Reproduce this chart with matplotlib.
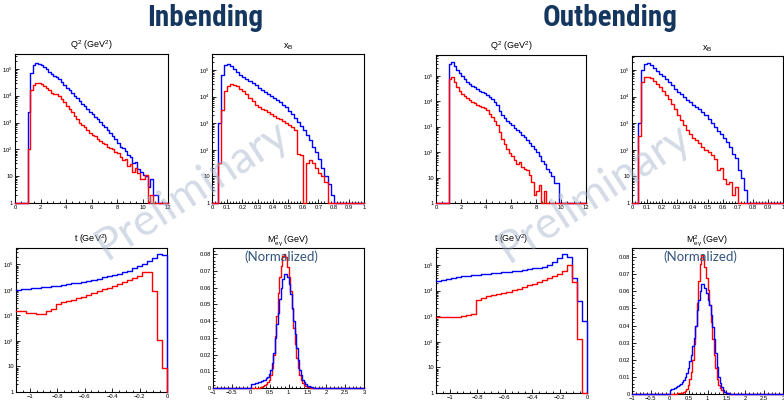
import matplotlib
matplotlib.use("Agg")
import matplotlib.pyplot as plt
from matplotlib import font_manager
from matplotlib.ticker import (FixedLocator, FixedFormatter, FuncFormatter,
                               LogLocator, MultipleLocator, NullFormatter)
import numpy as np

plt.rcParams["font.family"] = ["Liberation Sans", "DejaVu Sans"]
plt.rcParams["mathtext.fontset"] = "custom"
plt.rcParams["mathtext.rm"] = "Liberation Sans"
plt.rcParams["mathtext.it"] = "Liberation Sans:italic"
plt.rcParams["mathtext.default"] = "regular"

W, H = 784, 401
BLUE, RED = "#0000ff", "#ff0000"
NAVY = "#14365f"

# ---- histogram contents ----
# Q^2: bins of 0.2 GeV^2, first listed bin starts at 1.0
Q2_IN_BLUE = [2500, 70000, 141000, 170000, 158000, 138000, 115000, 95500, 79400, 63100,
              52500, 47900, 41700, 31600, 25100, 20000, 15800, 12600, 10000, 7940,
              6310, 5010, 3980, 3160, 2510, 2000, 1580, 1320, 1050, 832,
              661, 525, 417, 316, 251, 178, 126, 112, 89, 63,
              52, 32, 35, 18, 14, 11, 10, 4, 8, 2, 2]
Q2_IN_RED = [100, 15800, 25000, 30000, 29500, 26300, 22400, 19000, 15800, 13200,
             11700, 12000, 10000, 7600, 5600, 4200, 3200, 2400, 1780, 1320,
             1000, 790, 660, 525, 420, 355, 316, 240, 200, 166,
             158, 126, 112, 100, 83, 71, 50, 40, 42, 25,
             28, 14, 20, 13, 8, 8, 11, 0, 2]
Q2_OUT_BLUE = [302000, 355000, 240000, 166000, 126000, 100000, 76000, 56000, 46000, 40000,
               35000, 30000, 26300, 23400, 20400, 17800, 14800, 12000, 9300, 7100,
               4200, 2800, 2150, 1660, 1380, 1150, 910, 720, 600, 460,
               380, 300, 220, 178, 132, 100, 71, 45, 35, 21,
               16, 12, 6, 6]
Q2_OUT_RED = [76000, 89000, 56000, 35500, 25100, 20000, 15800, 13200, 11200, 9500,
              8300, 7200, 6600, 6000, 5200, 4400, 3300, 2400, 1660, 1120,
              600, 316, 200, 132, 95, 69, 50, 35, 40, 26,
              22, 20, 13, 7, 2, 3, 5, 0, 3]

# x_B: bins of 0.02, first listed bin starts at 0.04
XB_IN_BLUE = [1000, 63000, 151000, 166000, 138000, 107000, 83000, 66000, 54000, 46000,
              38000, 31600, 26300, 21400, 18200, 15100, 12600, 10700, 9100, 7600,
              6300, 5000, 4000, 3000, 2240, 1580, 1120, 800, 540, 355,
              224, 126, 80, 45, 20, 10, 5, 2]
XB_IN_RED = [32, 3200, 15800, 24000, 29500, 28200, 24000, 20000, 16600, 12600,
             8900, 6600, 5000, 4200, 3550, 3200, 2630, 2140, 1860, 1580,
             1410, 1200, 1000, 830, 710, 560, 70, 63, 0, 32,
             42, 32, 20, 14, 10, 6]
XB_OUT_BLUE = [1000, 100000, 174000, 186000, 158000, 120000, 93000, 72000, 57500, 46000,
               35500, 27000, 20000, 15100, 12000, 9500, 7600, 6000, 4800, 4000,
               3300, 2600, 2000, 1450, 1000, 710, 525, 400, 280, 190,
               126, 71, 50, 18, 9, 3]
XB_OUT_RED = [316, 35500, 52500, 56000, 50000, 40000, 30000, 22000, 15800, 11200,
              8000, 5200, 3300, 2100, 1320, 830, 560, 400, 280, 224,
              178, 126, 100, 80, 66, 45, 18, 20, 8, 5,
              6, 2, 4]

# t: 30 bins between -1.1 and 0 GeV^2
T_IN_BLUE = [10000, 10500, 11000, 11500, 12000, 12600, 13200, 13800, 14800, 15800,
             17000, 18200, 19500, 20900, 22900, 25100, 27500, 30900, 34700, 39800,
             43600, 50100, 57500, 69200, 85100, 107000, 138000, 178000, 251000, 229000]
T_IN_RED = [1510, 1510, 1200, 1200, 1120, 1120, 1510, 1860, 2880, 3310,
            3720, 4170, 4790, 5500, 6460, 7590, 8910, 10500, 12300, 14800,
            17400, 20400, 24000, 28200, 35500, 50100, 51300, 9330, 107, 9]
T_OUT_BLUE = [22900, 26300, 29500, 31600, 33100, 35500, 37200, 38900, 40700, 42700,
              44700, 46800, 49000, 51300, 53700, 56200, 60300, 64600, 69200, 74100,
              79400, 87100, 100000, 132000, 190000, 257000, 209000, 31600, 3890, 661]
T_OUT_RED = [933, 933, 912, 891, 933, 1000, 1120, 1260, 4170, 5250,
             6030, 6760, 7590, 8320, 9120, 10500, 12000, 13800, 15800, 18600,
             21900, 25700, 30200, 36300, 44700, 60300, 95500, 21400, 132, 0]

# M^2_egamma (normalized): bins of 0.04 GeV, first listed bin starts at 0
M2_IN_BLUE = [0.0022, 0.0024, 0.0026, 0.0028, 0.0030, 0.0033, 0.0036, 0.0040, 0.0045, 0.0050,
              0.0058, 0.0068, 0.0082, 0.011, 0.015, 0.021, 0.030, 0.038, 0.045, 0.053,
              0.060, 0.065, 0.068, 0.068, 0.066, 0.062, 0.056, 0.048, 0.040, 0.032,
              0.024, 0.017, 0.011, 0.0075, 0.0050, 0.0033, 0.0022, 0.0014, 0.0009, 0.0006,
              0.0004, 0.0002, 0.0001, 0.0001]
M2_IN_RED = [0, 0, 0, 0, 0.0001, 0.0002, 0.0003, 0.0006, 0.0010, 0.0016,
             0.0024, 0.0035, 0.0050, 0.0075, 0.012, 0.020, 0.031, 0.043, 0.057, 0.066,
             0.073, 0.079, 0.080, 0.078, 0.072, 0.066, 0.058, 0.047, 0.036, 0.026,
             0.018, 0.012, 0.0075, 0.0045, 0.0028, 0.0017, 0.0011, 0.0007, 0.0004, 0.0002,
             0.0001]
M2_OUT_BLUE = [0.0025, 0.0028, 0.0031, 0.0035, 0.0039, 0.0044, 0.0050, 0.0058, 0.0068, 0.0082,
               0.0098, 0.0120, 0.0150, 0.019, 0.023, 0.028, 0.033, 0.040, 0.049, 0.055,
               0.060, 0.064, 0.064, 0.062, 0.059, 0.055, 0.052, 0.046, 0.039, 0.032,
               0.024, 0.016, 0.010, 0.0065, 0.0040, 0.0024, 0.0014, 0.0008, 0.0004, 0.0002,
               0.0001]
M2_OUT_RED = [0, 0, 0, 0.0001, 0.0002, 0.0003, 0.0004, 0.0006, 0.0008, 0.0013,
              0.0020, 0.0032, 0.0050, 0.0085, 0.013, 0.020, 0.029, 0.040, 0.053, 0.066,
              0.076, 0.081, 0.079, 0.074, 0.068, 0.061, 0.052, 0.042, 0.032, 0.023,
              0.015, 0.009, 0.0055, 0.0035, 0.0022, 0.0014, 0.0009, 0.0005, 0.0003, 0.0001]

LOG_TICKS = [1, 10, 1e2, 1e3, 1e4, 1e5]
LOG_LABELS = ["1", "10", "$10^2$", "$10^3$", "$10^4$", "$10^5$"]

# variable settings: title, x range, bin width, first bin, major/minor x ticks
VARS = {
    "q2": ("Q$^2$ (GeV$^2$)", (0, 12), 0.2, 1.0, 2, 0.5),
    "xb": ("x$_B$", (0, 1), 0.02, 0.04, 0.1, 0.02),
    "t": ("t (GeV$^2$)", (-1.1, 0), 1.1 / 30, -1.1, 0.2, 0.05),
    "m2": ("M$^2_{e\\gamma}$ (GeV)", (-1, 3), 0.04, 0.0, 0.5, 0.1),
}

# panels: variable, blue, red, pixel box (left, right, top, bottom), y top
PANELS = [
    ("q2", Q2_IN_BLUE, Q2_IN_RED, (15, 168, 54, 203), 3.6e5),
    ("xb", XB_IN_BLUE, XB_IN_RED, (212, 364, 54, 203), 4.0e5),
    ("t", T_IN_BLUE, T_IN_RED, (16, 167, 248, 392), 4.4e5),
    ("m2", M2_IN_BLUE, M2_IN_RED, (213, 364, 248, 388), 0.0836),
    ("q2", Q2_OUT_BLUE, Q2_OUT_RED, (436, 586, 55, 203), 6.6e5),
    ("xb", XB_OUT_BLUE, XB_OUT_RED, (632, 783, 56, 203), 3.35e5),
    ("t", T_OUT_BLUE, T_OUT_RED, (436, 587, 248, 393), 4.6e5),
    ("m2", M2_OUT_BLUE, M2_OUT_RED, (632, 783, 248, 394), 0.0853),
]


def fmt_num(v, _):
    if abs(v) < 1e-9:
        return "0"
    return f"{v:g}".replace("-", "\u2212")


def draw_hist(ax, vals, x0, width, xlim, floor, color):
    # ROOT-like outline: empty bins lie on the floor, the last bin drops to it
    vals = np.maximum(np.asarray(vals, float), floor)
    edges = x0 + width * np.arange(len(vals) + 1)
    if x0 > xlim[0] + 1e-9:
        edges = np.concatenate(([xlim[0]], edges))
        vals = np.concatenate(([floor], vals))
    if edges[-1] < xlim[1] - 1e-9:
        edges = np.concatenate((edges, [xlim[1]]))
        vals = np.concatenate((vals, [floor]))
    xs = np.append(np.repeat(edges, 2)[1:-1], edges[-1])
    ys = np.append(np.repeat(vals, 2), floor)
    ax.plot(xs, ys, color=color, lw=1.0, zorder=3, clip_on=False)


fig = plt.figure(figsize=(W / 100, H / 100), dpi=100)

for key, blue, red, (l, r, t, b), ytop in PANELS:
    title, xlim, width, x0, major, minor = VARS[key]
    ax = fig.add_axes([l / W, 1 - b / H, (r - l) / W, (b - t) / H])
    is_log = key != "m2"
    floor = 1.0 if is_log else 0.0
    if is_log:
        ax.set_yscale("log")
        order = [(blue, BLUE), (red, RED)]
    else:
        order = [(red, RED), (blue, BLUE)]
    for vals, col in order:
        draw_hist(ax, vals, x0, width, xlim, floor, col)
    ax.set_xlim(*xlim)
    ax.set_ylim(floor, ytop)
    if is_log:
        ax.yaxis.set_major_locator(FixedLocator(LOG_TICKS))
        ax.yaxis.set_major_formatter(FixedFormatter(LOG_LABELS))
        ax.yaxis.set_minor_locator(LogLocator(base=10, subs=range(2, 10)))
        ax.yaxis.set_minor_formatter(NullFormatter())
    else:
        ax.yaxis.set_major_locator(MultipleLocator(0.01))
        ax.yaxis.set_minor_locator(MultipleLocator(0.002))
        ax.yaxis.set_major_formatter(FuncFormatter(fmt_num))
        ax.text(0.45, 0.94, "(Normalized)", transform=ax.transAxes,
                ha="center", va="center", fontsize=9.5, color="#34557f",
                family=["Lato", "DejaVu Sans"], zorder=5)
    ax.xaxis.set_major_locator(MultipleLocator(major))
    ax.xaxis.set_minor_locator(MultipleLocator(minor))
    ax.xaxis.set_major_formatter(FuncFormatter(fmt_num))
    ax.tick_params(which="both", direction="in", top=False, right=False,
                   labelsize=4.2, pad=1.5, width=0.6)
    ax.tick_params(which="major", length=3)
    ax.tick_params(which="minor", length=1.5)
    for sp in ax.spines.values():
        sp.set_linewidth(0.8)
    ax.set_title(title, fontsize=6.5, pad=4)

# header font: a condensed face if one is installed, else a narrower size
names = {f.name for f in font_manager.fontManager.ttflist}
head_family, head_size = "Roboto", 16
for cand in ["Roboto Condensed", "Open Sans Condensed", "Liberation Sans Narrow"]:
    if cand in names:
        head_family, head_size = cand, 21
        break

fig.text(205 / W, 1 - 18 / H, "Inbending", ha="center", va="center",
         fontsize=head_size, fontweight="bold", color=NAVY, family=head_family)
fig.text(610 / W, 1 - 18 / H, "Outbending", ha="center", va="center",
         fontsize=head_size, fontweight="bold", color=NAVY, family=head_family)

for cx, cy in [(192, 190), (594, 193)]:
    fig.text(cx / W, 1 - cy / H, "Preliminary", ha="center", va="center",
             rotation=33, rotation_mode="anchor", fontsize=32,
             color="#9fb0c8", alpha=0.45,
             family=["Lato", "DejaVu Sans"], zorder=10)

fig.savefig("out.png", dpi=100)
